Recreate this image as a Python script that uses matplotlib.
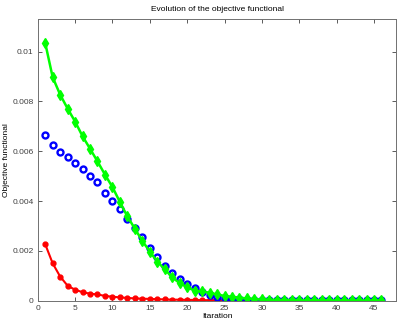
import numpy as np
import matplotlib
matplotlib.use("Agg")
import matplotlib.pyplot as plt

plt.rcParams["font.family"] = ["Liberation Sans", "DejaVu Sans"]

# Values
iter_green = np.arange(1, 47)
obj_green = [
    0.01035, 0.00897, 0.00827, 0.00771, 0.00719, 0.00660, 0.00610, 0.00559,
    0.00506, 0.00456, 0.00396, 0.00338, 0.00289, 0.00240, 0.00197, 0.00157,
    0.00126, 0.00094, 0.00070, 0.00054, 0.00040, 0.00037, 0.00032, 0.00025,
    0.00019, 0.00016, 0.00012, 0.00009, 0.00006, 0.00005, 0.00004, 0.00003,
    0.00003, 0.00003, 0.00002, 0.00002, 0.00002, 0.00002, 0.00001, 0.00001,
    0.00001, 0.00001, 0.00001, 0.00001, 0.00001, 0.00001,
]

iter_blue = np.arange(1, 47)
obj_blue = [
    0.00663, 0.00625, 0.00597, 0.00577, 0.00553, 0.00530, 0.00502, 0.00475,
    0.00432, 0.00401, 0.00368, 0.00329, 0.00291, 0.00255, 0.00213, 0.00175,
    0.00140, 0.00113, 0.00087, 0.00067, 0.00050, 0.00035, 0.00022, 0.00015,
    0.00010, 0.00007, 0.00005, 0.00004, 0.00003, 0.00003, 0.00002, 0.00002,
    0.00002, 0.00002, 0.00002, 0.00002, 0.00002, 0.00002, 0.00002, 0.00002,
    0.00002, 0.00002, 0.00002, 0.00002, 0.00002, 0.00002,
]

iter_red = np.arange(1, 29)
obj_red = [
    0.00227, 0.00150, 0.00097, 0.00060, 0.00044, 0.00034, 0.00028, 0.00025,
    0.00019, 0.00016, 0.00013, 0.00011, 0.00009, 0.00008, 0.00007, 0.00006,
    0.00005, 0.00004, 0.00004, 0.00003, 0.00003, 0.00002, 0.00002, 0.00002,
    0.00001, 0.00001, 0.00001, 0.00001,
]

xticks = [0, 5, 10, 15, 20, 25, 30, 35, 40, 45]
yticks = [0, 0.002, 0.004, 0.006, 0.008, 0.01]
ytick_labels = ["0", "0.002", "0.004", "0.006", "0.008", "0.01"]

fig = plt.figure(figsize=(3.99, 3.24), dpi=100)
ax = fig.add_axes([0.0945, 0.072, 0.899, 0.869])

ax.plot(iter_red, obj_red, "-o", color="#ff0000", lw=1.5, ms=3.5,
        mfc="#ff0000", mec="#ff0000")
ax.plot(iter_blue, obj_blue, "o", color="#0000ff", ms=4.3, mew=1.7,
        mfc="none", mec="#0000ff")
ax.plot(iter_green, obj_green, "-d", color="#00ff00", lw=1.8, ms=5.5,
        mfc="#00ff00", mec="#00ff00")

ax.set_xlim(0, 48)
ax.set_ylim(0, 0.0113)
ax.set_xticks(xticks)
ax.set_xticklabels([str(t) for t in xticks])
ax.set_yticks(yticks)
ax.set_yticklabels(ytick_labels)

ax.tick_params(direction="in", length=3, width=0.6, labelsize=6,
               top=True, right=True, colors="#404040", pad=3)
for side in ax.spines.values():
    side.set_color("#707070")
    side.set_linewidth(0.7)

ax.set_title("Evolution of the objective functional", fontsize=6, pad=6)
ax.set_xlabel("Itaration", fontsize=6, labelpad=1)
ax.set_ylabel("Objective functional", fontsize=6)
ax.yaxis.set_label_coords(-0.078, 0.5)

fig.savefig("out.png", dpi=100)
plt.close(fig)
